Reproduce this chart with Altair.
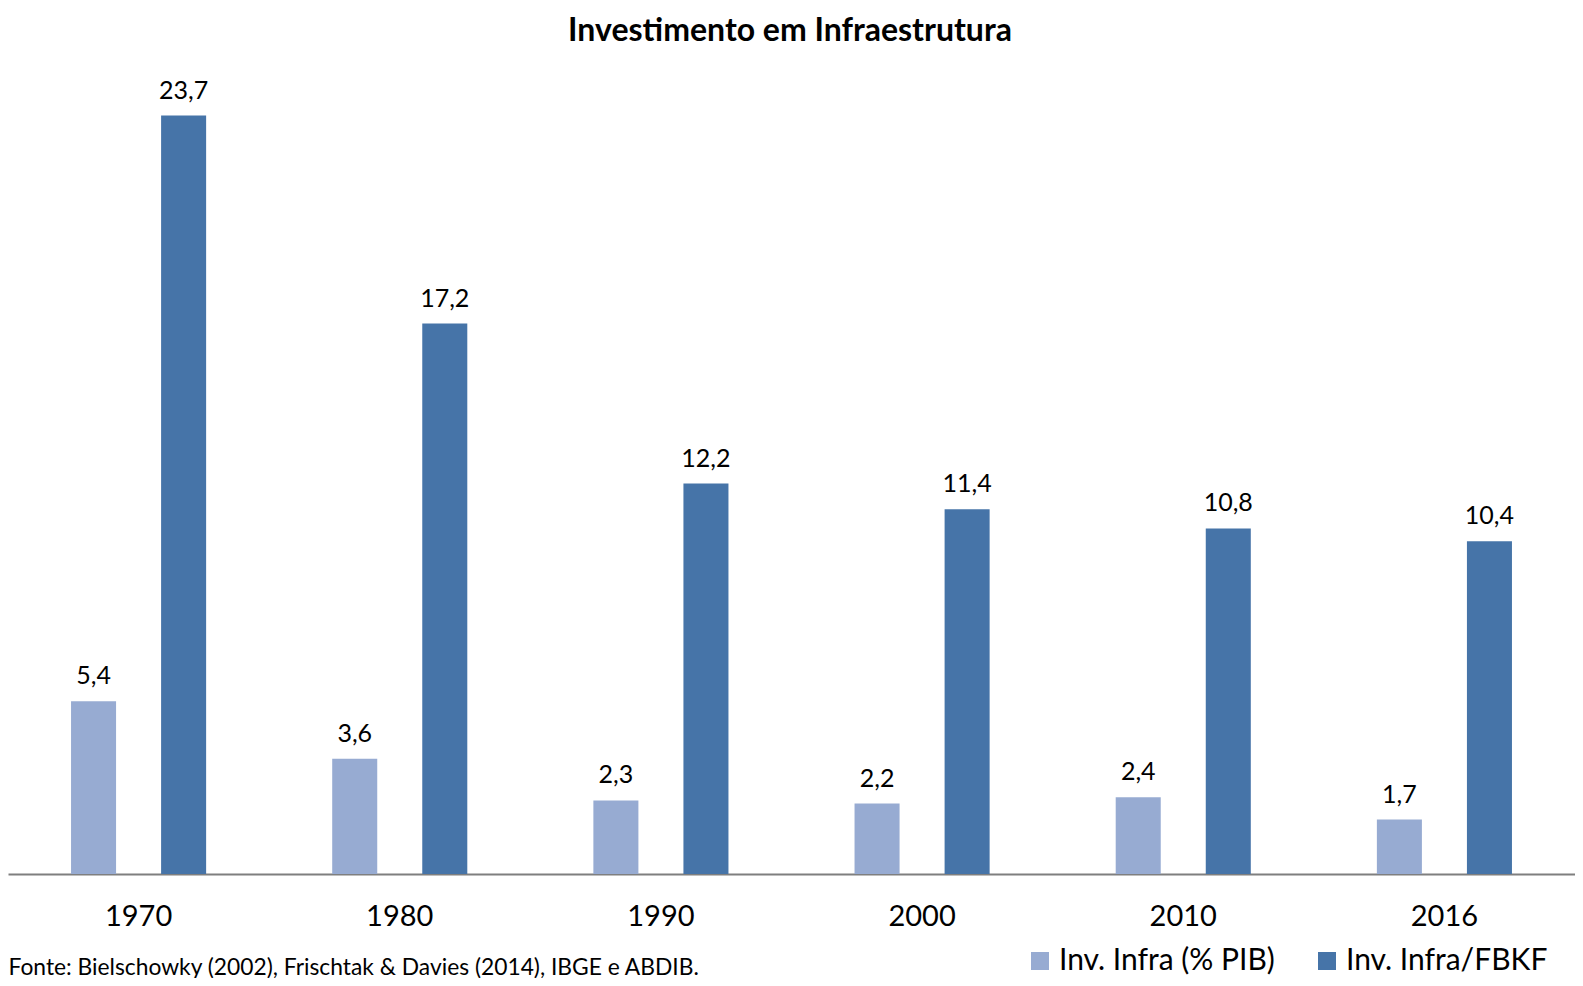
import altair as alt
import pandas as pd

years = ["1970", "1980", "1990", "2000", "2010", "2016"]
pib = [5.4, 3.6, 2.3, 2.2, 2.4, 1.7]
fbkf = [23.7, 17.2, 12.2, 11.4, 10.8, 10.4]
series = ["Inv. Infra (% PIB)", "Inv. Infra/FBKF"]
colors = ["#97ABD2", "#4674A8"]
source_text = "Fonte: Bielschowky (2002), Frischtak & Davies (2014), IBGE e ABDIB."
title_text = "Investimento em Infraestrutura"

rows = []
for y, a, b in zip(years, pib, fbkf):
    rows.append({"ano": y, "serie": series[0], "valor": a})
    rows.append({"ano": y, "serie": series[1], "valor": b})
df = pd.DataFrame(rows)
df["rotulo"] = df["valor"].map(lambda v: f"{v:.1f}".replace(".", ","))

FONT = "Lato"

base = alt.Chart(df).encode(
    x=alt.X(
        "ano:N",
        sort=years,
        scale=alt.Scale(paddingInner=0, paddingOuter=0),
        axis=alt.Axis(
            title=source_text,
            titleX=0,
            titleY=100,
            titleAlign="left",
            titleAnchor="start",
            titleBaseline="alphabetic",
            titleFont=FONT,
            titleFontSize=22.8,
            titleFontWeight="normal",
            titleColor="black",
            labelFont=FONT,
            labelFontSize=29,
            labelColor="black",
            labelAngle=0,
            labelPadding=28,
            ticks=False,
            domainColor="#7f7f7f",
            domainWidth=2,
            grid=False,
        ),
    ),
    xOffset=alt.XOffset(
        "serie:N", sort=series, scale=alt.Scale(paddingInner=0.5, paddingOuter=0.7)
    ),
    y=alt.Y("valor:Q", scale=alt.Scale(domain=[0, 25]), axis=None),
)

bars = base.mark_bar().encode(
    color=alt.Color(
        "serie:N",
        sort=series,
        scale=alt.Scale(domain=series, range=colors),
        legend=alt.Legend(
            title=None,
            orient="none",
            legendX=1017,
            legendY=872,
            direction="horizontal",
            symbolType="square",
            symbolSize=324,
            symbolStrokeWidth=0,
            symbolOpacity=1,
            labelFont=FONT,
            labelFontSize=30,
            labelColor="black",
            labelOffset=4,
            labelLimit=0,
            columnPadding=37,
        ),
    )
)

labels = base.mark_text(
    baseline="alphabetic", dy=-17, fontSize=25, font=FONT, color="black"
).encode(text="rotulo:N")

title_layer = (
    alt.Chart(pd.DataFrame({"t": [title_text]}))
    .mark_text(
        font=FONT,
        fontSize=32,
        fontWeight="bold",
        color="black",
        align="center",
        baseline="alphabetic",
    )
    .encode(text="t:N", x=alt.value(782), y=alt.value(-33))
)

chart = (
    alt.layer(bars, labels, title_layer)
    .properties(
        width=1567,
        height=800,
        autosize=alt.AutoSizeParams(type="none"),
        padding={"left": 0, "top": 66, "right": 0, "bottom": 104},
    )
    .configure_view(stroke=None)
)

chart.save("out.html", embed_options={"renderer": "svg", "actions": False})
